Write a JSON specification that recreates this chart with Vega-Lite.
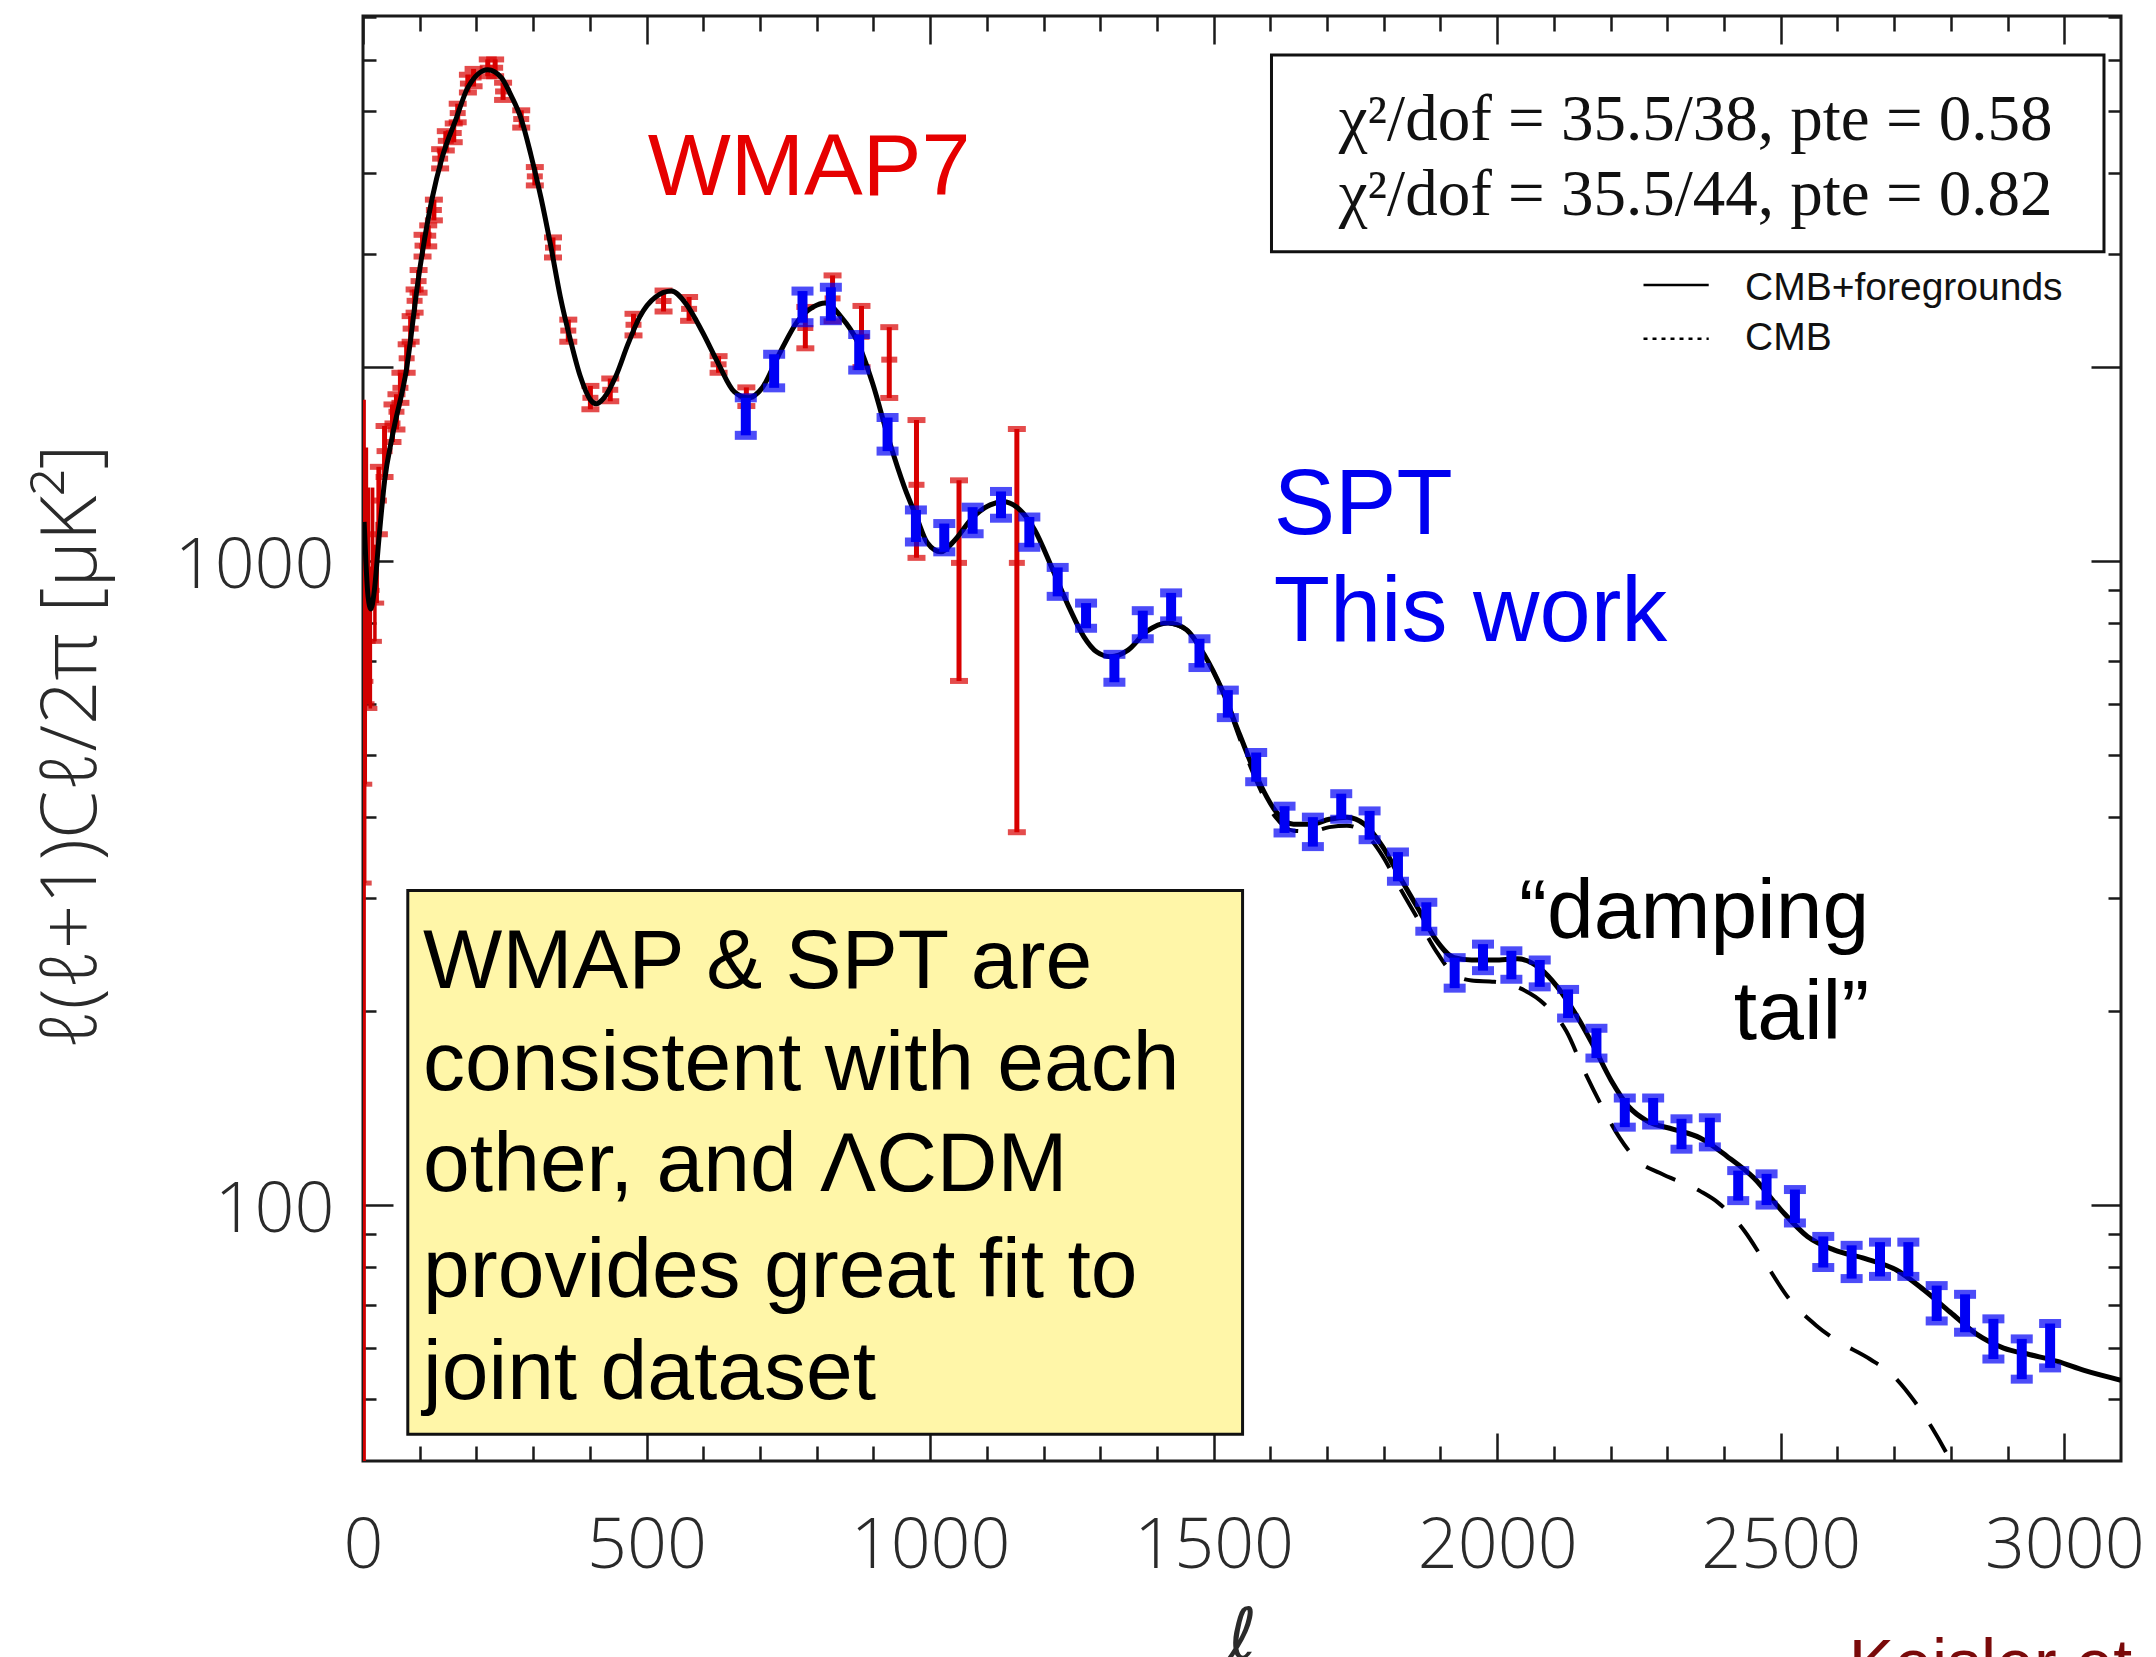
{
  "$schema": "https://vega.github.io/schema/vega-lite/v6.json",
  "width": 1758,
  "height": 1445,
  "autosize": {"type": "none"},
  "padding": {"left": 363, "top": 16, "right": 35, "bottom": 196},
  "background": "white",
  "config": {
    "view": {"stroke": "#1a1a1a", "strokeWidth": 3, "fill": "white"},
    "axis": {
      "domain": false, "grid": false, "tickColor": "#1a1a1a", "tickWidth": 2.5,
      "labelFont": "Open Sans", "labelFontWeight": 300, "labelFontSize": 70, "labelColor": "#2a2a2a",
      "titleFont": "Open Sans", "titleFontWeight": 300, "titleColor": "#2a2a2a",
      "labelFlush": false, "labelOverlap": false, "labelBound": false
    }
  },
  "resolve": {"axis": {"x": "independent", "y": "independent"}},
  "datasets": {
    "anchor": [{"l": 1000, "v": 1000}],
    "wmapLow": [
      {"l": 2, "v": 200, "lo": 22, "hi": 1780},
      {"l": 3, "v": 650, "lo": 316, "hi": 1244},
      {"l": 4, "v": 800, "lo": 450, "hi": 1350},
      {"l": 6, "v": 1050, "lo": 650, "hi": 1500},
      {"l": 8, "v": 850, "lo": 600, "hi": 1150},
      {"l": 10, "v": 1000, "lo": 750, "hi": 1300},
      {"l": 13, "v": 780, "lo": 590, "hi": 980},
      {"l": 17, "v": 1100, "lo": 900, "hi": 1300},
      {"l": 21, "v": 900, "lo": 750, "hi": 1060},
      {"l": 25, "v": 1000, "lo": 860, "hi": 1150}
    ],
    "wmap": [
      {"l": 28, "v": 1241, "lo": 1100, "hi": 1400},
      {"l": 38, "v": 1481, "lo": 1350, "hi": 1620},
      {"l": 52, "v": 1635, "lo": 1530, "hi": 1750},
      {"l": 59, "v": 1705, "lo": 1600, "hi": 1815},
      {"l": 66, "v": 1857, "lo": 1760, "hi": 1960},
      {"l": 77, "v": 2064, "lo": 1960, "hi": 2170},
      {"l": 84, "v": 2295, "lo": 2190, "hi": 2400},
      {"l": 91, "v": 2535, "lo": 2430, "hi": 2640},
      {"l": 98, "v": 2720, "lo": 2610, "hi": 2830},
      {"l": 105, "v": 3088, "lo": 2970, "hi": 3210},
      {"l": 115, "v": 3200, "lo": 3080, "hi": 3320},
      {"l": 125, "v": 3508, "lo": 3380, "hi": 3640},
      {"l": 136, "v": 4215, "lo": 4070, "hi": 4360},
      {"l": 146, "v": 4492, "lo": 4340, "hi": 4650},
      {"l": 160, "v": 4620, "lo": 4470, "hi": 4780},
      {"l": 167, "v": 4961, "lo": 4800, "hi": 5130},
      {"l": 185, "v": 5513, "lo": 5340, "hi": 5690},
      {"l": 195, "v": 5633, "lo": 5460, "hi": 5810},
      {"l": 220, "v": 5834, "lo": 5660, "hi": 6010},
      {"l": 233, "v": 5834, "lo": 5660, "hi": 6010},
      {"l": 247, "v": 5360, "lo": 5200, "hi": 5530},
      {"l": 279, "v": 4856, "lo": 4710, "hi": 5010},
      {"l": 303, "v": 3956, "lo": 3830, "hi": 4090},
      {"l": 335, "v": 3066, "lo": 2960, "hi": 3180},
      {"l": 362, "v": 2279, "lo": 2190, "hi": 2370},
      {"l": 401, "v": 1792, "lo": 1720, "hi": 1870},
      {"l": 436, "v": 1844, "lo": 1770, "hi": 1920},
      {"l": 477, "v": 2327, "lo": 2240, "hi": 2420},
      {"l": 530, "v": 2533, "lo": 2440, "hi": 2630},
      {"l": 575, "v": 2463, "lo": 2360, "hi": 2570},
      {"l": 627, "v": 2020, "lo": 1960, "hi": 2080},
      {"l": 676, "v": 1800, "lo": 1740, "hi": 1860},
      {"l": 780, "v": 2300, "lo": 2139, "hi": 2480},
      {"l": 828, "v": 2557, "lo": 2356, "hi": 2776},
      {"l": 879, "v": 2229, "lo": 2000, "hi": 2489},
      {"l": 928, "v": 2054, "lo": 1791, "hi": 2307},
      {"l": 976, "v": 1313, "lo": 1011, "hi": 1655},
      {"l": 1051, "v": 993, "lo": 651, "hi": 1334},
      {"l": 1153, "v": 993, "lo": 379, "hi": 1603}
    ],
    "spt": [
      {"l": 675, "v": 1682, "lo": 1567, "hi": 1792},
      {"l": 725, "v": 1971, "lo": 1857, "hi": 2094},
      {"l": 775, "v": 2481, "lo": 2344, "hi": 2625},
      {"l": 825, "v": 2516, "lo": 2361, "hi": 2661},
      {"l": 875, "v": 2108, "lo": 1979, "hi": 2247},
      {"l": 925, "v": 1567, "lo": 1481, "hi": 1670},
      {"l": 975, "v": 1137, "lo": 1070, "hi": 1200},
      {"l": 1025, "v": 1090, "lo": 1033, "hi": 1143},
      {"l": 1075, "v": 1156, "lo": 1102, "hi": 1212},
      {"l": 1125, "v": 1222, "lo": 1165, "hi": 1282},
      {"l": 1175, "v": 1119, "lo": 1050, "hi": 1170},
      {"l": 1225, "v": 932, "lo": 881, "hi": 977},
      {"l": 1275, "v": 820, "lo": 786, "hi": 860},
      {"l": 1325, "v": 683, "lo": 648, "hi": 716},
      {"l": 1375, "v": 795, "lo": 757, "hi": 837},
      {"l": 1425, "v": 846, "lo": 807, "hi": 892},
      {"l": 1475, "v": 716, "lo": 683, "hi": 757},
      {"l": 1525, "v": 601, "lo": 571, "hi": 630},
      {"l": 1575, "v": 481, "lo": 454, "hi": 504},
      {"l": 1625, "v": 397, "lo": 378, "hi": 416},
      {"l": 1675, "v": 381, "lo": 360, "hi": 400},
      {"l": 1725, "v": 416, "lo": 397, "hi": 435},
      {"l": 1775, "v": 390, "lo": 369, "hi": 409},
      {"l": 1825, "v": 335, "lo": 318, "hi": 353},
      {"l": 1875, "v": 279, "lo": 266, "hi": 295},
      {"l": 1925, "v": 229, "lo": 217, "hi": 242},
      {"l": 1975, "v": 242, "lo": 231, "hi": 254},
      {"l": 2025, "v": 236, "lo": 224, "hi": 248},
      {"l": 2075, "v": 229, "lo": 218, "hi": 240},
      {"l": 2125, "v": 206, "lo": 195, "hi": 216},
      {"l": 2175, "v": 179, "lo": 169, "hi": 188},
      {"l": 2225, "v": 140, "lo": 132, "hi": 146.5},
      {"l": 2275, "v": 140, "lo": 133, "hi": 146.5},
      {"l": 2325, "v": 129, "lo": 122, "hi": 136},
      {"l": 2375, "v": 130, "lo": 123, "hi": 136.5},
      {"l": 2425, "v": 107.3, "lo": 101.5, "hi": 113},
      {"l": 2475, "v": 105.6, "lo": 99.9, "hi": 111.7},
      {"l": 2525, "v": 99.9, "lo": 93.7, "hi": 105.6},
      {"l": 2575, "v": 84.5, "lo": 79.9, "hi": 89.3},
      {"l": 2625, "v": 81.8, "lo": 76.8, "hi": 86.5},
      {"l": 2675, "v": 82.5, "lo": 77.4, "hi": 87.5},
      {"l": 2725, "v": 82.5, "lo": 77.4, "hi": 87.5},
      {"l": 2775, "v": 70.3, "lo": 66, "hi": 74.9},
      {"l": 2825, "v": 68.1, "lo": 63.4, "hi": 72.6},
      {"l": 2875, "v": 61.9, "lo": 57.6, "hi": 66.5},
      {"l": 2925, "v": 57.6, "lo": 53.6, "hi": 61.9},
      {"l": 2975, "v": 60.9, "lo": 55.8, "hi": 65.4}
    ],
    "model": [
      {"l": 2, "v": 1150}, {"l": 5, "v": 1000}, {"l": 9, "v": 880}, {"l": 14, "v": 842}, {"l": 20, "v": 900},
      {"l": 28, "v": 1080}, {"l": 38, "v": 1330}, {"l": 52, "v": 1567}, {"l": 77, "v": 1993}, {"l": 98, "v": 2758},
      {"l": 122, "v": 3660}, {"l": 139, "v": 4215}, {"l": 164, "v": 4856}, {"l": 185, "v": 5438}, {"l": 220, "v": 5794},
      {"l": 244, "v": 5633}, {"l": 261, "v": 5284}, {"l": 279, "v": 4856}, {"l": 296, "v": 4274}, {"l": 314, "v": 3660},
      {"l": 331, "v": 3088}, {"l": 348, "v": 2570}, {"l": 366, "v": 2199}, {"l": 383, "v": 1937}, {"l": 401, "v": 1779},
      {"l": 411, "v": 1754}, {"l": 425, "v": 1792}, {"l": 446, "v": 1937}, {"l": 467, "v": 2169}, {"l": 488, "v": 2394},
      {"l": 516, "v": 2570}, {"l": 544, "v": 2625}, {"l": 571, "v": 2498}, {"l": 599, "v": 2263}, {"l": 627, "v": 2021},
      {"l": 655, "v": 1830}, {"l": 679, "v": 1792}, {"l": 704, "v": 1857}, {"l": 732, "v": 2079}, {"l": 767, "v": 2361},
      {"l": 794, "v": 2481}, {"l": 815, "v": 2516}, {"l": 843, "v": 2394}, {"l": 871, "v": 2199}, {"l": 899, "v": 1883},
      {"l": 927, "v": 1545}, {"l": 955, "v": 1300}, {"l": 976, "v": 1170}, {"l": 995, "v": 1067}, {"l": 1019, "v": 1033},
      {"l": 1043, "v": 1076}, {"l": 1074, "v": 1165}, {"l": 1106, "v": 1222}, {"l": 1129, "v": 1236}, {"l": 1153, "v": 1212},
      {"l": 1184, "v": 1119}, {"l": 1216, "v": 970}, {"l": 1247, "v": 840}, {"l": 1271, "v": 763}, {"l": 1294, "v": 722},
      {"l": 1318, "v": 710}, {"l": 1349, "v": 727}, {"l": 1381, "v": 776}, {"l": 1420, "v": 801}, {"l": 1452, "v": 782},
      {"l": 1483, "v": 716}, {"l": 1515, "v": 630}, {"l": 1546, "v": 537}, {"l": 1578, "v": 458}, {"l": 1609, "v": 409},
      {"l": 1641, "v": 390}, {"l": 1672, "v": 390}, {"l": 1704, "v": 397}, {"l": 1735, "v": 400}, {"l": 1766, "v": 390},
      {"l": 1798, "v": 360}, {"l": 1829, "v": 322}, {"l": 1861, "v": 288}, {"l": 1892, "v": 258}, {"l": 1924, "v": 242},
      {"l": 1955, "v": 240}, {"l": 1995, "v": 240}, {"l": 2036, "v": 241}, {"l": 2075, "v": 233}, {"l": 2106, "v": 218},
      {"l": 2138, "v": 198}, {"l": 2169, "v": 177}, {"l": 2201, "v": 156}, {"l": 2232, "v": 142}, {"l": 2264, "v": 135},
      {"l": 2311, "v": 131}, {"l": 2358, "v": 127}, {"l": 2405, "v": 119}, {"l": 2453, "v": 110}, {"l": 2500, "v": 98.3},
      {"l": 2547, "v": 89.3}, {"l": 2594, "v": 85.1}, {"l": 2649, "v": 82.5}, {"l": 2704, "v": 79.2}, {"l": 2752, "v": 73.8},
      {"l": 2799, "v": 68.1}, {"l": 2846, "v": 62.9}, {"l": 2893, "v": 59.9}, {"l": 2940, "v": 58.5}, {"l": 2988, "v": 57.1},
      {"l": 3035, "v": 55.3}, {"l": 3100, "v": 53.4}
    ],
    "cmb": [
      {"l": 1420, "v": 801}, {"l": 1452, "v": 782}, {"l": 1483, "v": 716}, {"l": 1515, "v": 630},
      {"l": 1546, "v": 530}, {"l": 1578, "v": 450}, {"l": 1609, "v": 400}, {"l": 1641, "v": 381}, {"l": 1672, "v": 380},
      {"l": 1704, "v": 386}, {"l": 1735, "v": 388}, {"l": 1766, "v": 378}, {"l": 1798, "v": 348}, {"l": 1829, "v": 310},
      {"l": 1861, "v": 277}, {"l": 1892, "v": 248}, {"l": 1924, "v": 228}, {"l": 1955, "v": 223}, {"l": 1995, "v": 222},
      {"l": 2034, "v": 218}, {"l": 2083, "v": 205}, {"l": 2122, "v": 186}, {"l": 2154, "v": 161}, {"l": 2185, "v": 142},
      {"l": 2216, "v": 127}, {"l": 2248, "v": 117}, {"l": 2287, "v": 112}, {"l": 2358, "v": 105}, {"l": 2390, "v": 100.7},
      {"l": 2437, "v": 90.8}, {"l": 2468, "v": 82.5}, {"l": 2515, "v": 71.4}, {"l": 2563, "v": 64.9}, {"l": 2594, "v": 61.9},
      {"l": 2657, "v": 57.6}, {"l": 2696, "v": 54.5}, {"l": 2736, "v": 49.5}, {"l": 2767, "v": 45}, {"l": 2800, "v": 40},
      {"l": 2820, "v": 37}
    ],
    "labels": [
      {"g": "wmap", "l": 502, "v": 3700, "t": "WMAP7"},
      {"g": "spt", "l": 1606, "v": 1101, "t": "SPT"},
      {"g": "spt", "l": 1606, "v": 751, "t": "This work"},
      {"g": "damp", "l": 2656, "v": 259.6, "t": "“damping"},
      {"g": "damp", "l": 2656, "v": 181, "t": "tail”"},
      {"g": "chi", "l": 2350, "v": 4507, "t": "χ²/dof = 35.5/38, pte = 0.58"},
      {"g": "chi", "l": 2350, "v": 3446, "t": "χ²/dof = 35.5/44, pte = 0.82"},
      {"g": "leg", "l": 2437, "v": 2544, "t": "CMB+foregrounds"},
      {"g": "leg", "l": 2437, "v": 2127, "t": "CMB"},
      {"g": "box", "l": 106, "v": 217.4, "t": "WMAP & SPT are"},
      {"g": "box", "l": 106, "v": 150.7, "t": "consistent with each"},
      {"g": "box", "l": 106, "v": 105.2, "t": "other, and ΛCDM"},
      {"g": "box", "l": 106, "v": 72.0, "t": "provides great fit to"},
      {"g": "box", "l": 106, "v": 50.0, "t": "joint dataset"},
      {"g": "cite", "l": 2620, "v": 17.85, "t": "Keisler et"}
    ],
    "legendLines": [
      {"k": "solid", "l": 2258, "l2": 2373, "v": 2683},
      {"k": "dot", "l": 2258, "l2": 2373, "v": 2214}
    ],
    "boxes": [
      {"k": "chi", "l": 1602, "l2": 3070, "v": 3020, "v2": 6105},
      {"k": "note", "l": 79, "l2": 1551, "v": 44.0, "v2": 307.6}
    ]
  },
  "layer": [
    {
      "data": {"name": "anchor"},
      "mark": {"type": "point", "opacity": 0},
      "encoding": {
        "x": {"field": "l", "type": "quantitative", "scale": {"domain": [0, 3100], "nice": false, "zero": false},
          "axis": {"orient": "bottom", "values": [0, 500, 1000, 1500, 2000, 2500, 3000], "tickSize": -28, "labelPadding": 79, "format": "d",
            "title": "ℓ", "titleFont": "DejaVu Sans", "titleFontStyle": "italic", "titleFontWeight": 300, "titleFontSize": 70,
            "titleX": 879, "titleY": 196, "titleBaseline": "alphabetic", "titleAlign": "center"}},
        "y": {"field": "v", "type": "quantitative", "scale": {"type": "log", "domain": [40, 7020], "nice": false},
          "axis": {"orient": "left", "values": [100, 1000, 2000], "tickSize": -30, "labelPadding": 59,
            "labelExpr": "datum.value == 2000 ? '' : format(datum.value, 'd')", "labelBaseline": "alphabetic", "labelOffset": 27,
            "title": "ℓ(ℓ+1)Cℓ/2π  [μK²]", "titleFontSize": 78, "titleX": -268, "titleY": 730, "titleAngle": -90,
            "titleBaseline": "alphabetic", "titleAlign": "center"}}
      }
    },
    {
      "data": {"name": "anchor"},
      "mark": {"type": "point", "opacity": 0},
      "encoding": {
        "x": {"field": "l", "type": "quantitative", "scale": {"domain": [0, 3100], "nice": false, "zero": false},
          "axis": {"orient": "bottom", "values": [100, 200, 300, 400, 600, 700, 800, 900, 1100, 1200, 1300, 1400, 1600, 1700, 1800, 1900, 2100, 2200, 2300, 2400, 2600, 2700, 2800, 2900], "tickSize": -15, "labels": false, "title": null}},
        "y": {"field": "v", "type": "quantitative", "scale": {"type": "log", "domain": [40, 7020], "nice": false},
          "axis": {"orient": "left", "values": [50, 60, 70, 80, 90, 200, 300, 400, 500, 600, 700, 800, 900, 3000, 4000, 5000, 6000, 7000], "tickSize": -13, "labels": false, "title": null}}
      }
    },
    {
      "data": {"name": "anchor"},
      "mark": {"type": "point", "opacity": 0},
      "encoding": {
        "x": {"field": "l", "type": "quantitative", "scale": {"domain": [0, 3100], "nice": false, "zero": false},
          "axis": {"orient": "top", "values": [0, 500, 1000, 1500, 2000, 2500, 3000], "tickSize": -28, "labels": false, "title": null}},
        "y": {"field": "v", "type": "quantitative", "scale": {"type": "log", "domain": [40, 7020], "nice": false},
          "axis": {"orient": "right", "values": [100, 1000, 2000], "tickSize": -30, "labels": false, "title": null}}
      }
    },
    {
      "data": {"name": "anchor"},
      "mark": {"type": "point", "opacity": 0},
      "encoding": {
        "x": {"field": "l", "type": "quantitative", "scale": {"domain": [0, 3100], "nice": false, "zero": false},
          "axis": {"orient": "top", "values": [100, 200, 300, 400, 600, 700, 800, 900, 1100, 1200, 1300, 1400, 1600, 1700, 1800, 1900, 2100, 2200, 2300, 2400, 2600, 2700, 2800, 2900], "tickSize": -15, "labels": false, "title": null}},
        "y": {"field": "v", "type": "quantitative", "scale": {"type": "log", "domain": [40, 7020], "nice": false},
          "axis": {"orient": "right", "values": [50, 60, 70, 80, 90, 200, 300, 400, 500, 600, 700, 800, 900, 3000, 4000, 5000, 6000, 7000], "tickSize": -13, "labels": false, "title": null}}
      }
    },
    {
      "data": {"name": "wmapLow"},
      "mark": {"type": "rule", "color": "#d00000", "strokeWidth": 3.5, "clip": true},
      "encoding": {
        "x": {"field": "l", "type": "quantitative", "scale": {"domain": [0, 3100], "nice": false, "zero": false}, "axis": null},
        "y": {"field": "lo", "type": "quantitative", "scale": {"type": "log", "domain": [40, 7020], "nice": false}, "axis": null},
        "y2": {"field": "hi"}
      }
    },
    {
      "data": {"name": "wmap"},
      "mark": {"type": "rule", "color": "#d80000", "strokeWidth": 5, "clip": true},
      "encoding": {
        "x": {"field": "l", "type": "quantitative", "scale": {"domain": [0, 3100], "nice": false, "zero": false}, "axis": null},
        "y": {"field": "lo", "type": "quantitative", "scale": {"type": "log", "domain": [40, 7020], "nice": false}, "axis": null},
        "y2": {"field": "hi"}
      }
    },
    {
      "data": {"name": "wmap"},
      "mark": {"type": "tick", "orient": "horizontal", "color": "#d80000", "size": 18, "thickness": 6, "clip": true},
      "encoding": {
        "x": {"field": "l", "type": "quantitative", "scale": {"domain": [0, 3100], "nice": false, "zero": false}, "axis": null},
        "y": {"field": "lo", "type": "quantitative", "scale": {"type": "log", "domain": [40, 7020], "nice": false}, "axis": null}
      }
    },
    {
      "data": {"name": "wmap"},
      "mark": {"type": "tick", "orient": "horizontal", "color": "#d80000", "size": 18, "thickness": 6, "clip": true},
      "encoding": {
        "x": {"field": "l", "type": "quantitative", "scale": {"domain": [0, 3100], "nice": false, "zero": false}, "axis": null},
        "y": {"field": "hi", "type": "quantitative", "scale": {"type": "log", "domain": [40, 7020], "nice": false}, "axis": null}
      }
    },
    {
      "data": {"name": "wmap"},
      "mark": {"type": "tick", "orient": "horizontal", "color": "#d80000", "size": 16, "thickness": 6, "clip": true},
      "encoding": {
        "x": {"field": "l", "type": "quantitative", "scale": {"domain": [0, 3100], "nice": false, "zero": false}, "axis": null},
        "y": {"field": "v", "type": "quantitative", "scale": {"type": "log", "domain": [40, 7020], "nice": false}, "axis": null}
      }
    },
    {
      "data": {"name": "wmapLow"},
      "mark": {"type": "tick", "orient": "horizontal", "color": "#d00000", "size": 14, "thickness": 5, "clip": true},
      "encoding": {
        "x": {"field": "l", "type": "quantitative", "scale": {"domain": [0, 3100], "nice": false, "zero": false}, "axis": null},
        "y": {"field": "lo", "type": "quantitative", "scale": {"type": "log", "domain": [40, 7020], "nice": false}, "axis": null}
      }
    },
    {
      "data": {"name": "cmb"},
      "mark": {"type": "line", "color": "black", "strokeWidth": 4, "strokeDash": [32, 24], "interpolate": "monotone", "clip": true},
      "encoding": {
        "x": {"field": "l", "type": "quantitative", "scale": {"domain": [0, 3100], "nice": false, "zero": false}, "axis": null},
        "y": {"field": "v", "type": "quantitative", "scale": {"type": "log", "domain": [40, 7020], "nice": false}, "axis": null}
      }
    },
    {
      "data": {"name": "model"},
      "mark": {"type": "line", "color": "black", "strokeWidth": 5, "interpolate": "monotone", "clip": true},
      "encoding": {
        "x": {"field": "l", "type": "quantitative", "scale": {"domain": [0, 3100], "nice": false, "zero": false}, "axis": null},
        "y": {"field": "v", "type": "quantitative", "scale": {"type": "log", "domain": [40, 7020], "nice": false}, "axis": null}
      }
    },
    {
      "data": {"name": "spt"},
      "mark": {"type": "rule", "color": "#0000f5", "strokeWidth": 10},
      "encoding": {
        "x": {"field": "l", "type": "quantitative", "scale": {"domain": [0, 3100], "nice": false, "zero": false}, "axis": null},
        "y": {"field": "lo", "type": "quantitative", "scale": {"type": "log", "domain": [40, 7020], "nice": false}, "axis": null},
        "y2": {"field": "hi"}
      }
    },
    {
      "data": {"name": "spt"},
      "mark": {"type": "tick", "orient": "horizontal", "color": "#0000f5", "size": 22, "thickness": 9},
      "encoding": {
        "x": {"field": "l", "type": "quantitative", "scale": {"domain": [0, 3100], "nice": false, "zero": false}, "axis": null},
        "y": {"field": "lo", "type": "quantitative", "scale": {"type": "log", "domain": [40, 7020], "nice": false}, "axis": null}
      }
    },
    {
      "data": {"name": "spt"},
      "mark": {"type": "tick", "orient": "horizontal", "color": "#0000f5", "size": 22, "thickness": 9},
      "encoding": {
        "x": {"field": "l", "type": "quantitative", "scale": {"domain": [0, 3100], "nice": false, "zero": false}, "axis": null},
        "y": {"field": "hi", "type": "quantitative", "scale": {"type": "log", "domain": [40, 7020], "nice": false}, "axis": null}
      }
    },
    {
      "data": {"name": "boxes"},
      "transform": [{"filter": "datum.k == 'chi'"}],
      "mark": {"type": "rect", "fill": "white", "stroke": "#111", "strokeWidth": 3},
      "encoding": {
        "x": {"field": "l", "type": "quantitative", "scale": {"domain": [0, 3100], "nice": false, "zero": false}, "axis": null},
        "x2": {"field": "l2"},
        "y": {"field": "v", "type": "quantitative", "scale": {"type": "log", "domain": [40, 7020], "nice": false}, "axis": null},
        "y2": {"field": "v2"}
      }
    },
    {
      "data": {"name": "boxes"},
      "transform": [{"filter": "datum.k == 'note'"}],
      "mark": {"type": "rect", "fill": "#fff6a8", "stroke": "#111", "strokeWidth": 3},
      "encoding": {
        "x": {"field": "l", "type": "quantitative", "scale": {"domain": [0, 3100], "nice": false, "zero": false}, "axis": null},
        "x2": {"field": "l2"},
        "y": {"field": "v", "type": "quantitative", "scale": {"type": "log", "domain": [40, 7020], "nice": false}, "axis": null},
        "y2": {"field": "v2"}
      }
    },
    {
      "data": {"name": "legendLines"},
      "transform": [{"filter": "datum.k == 'solid'"}],
      "mark": {"type": "rule", "color": "black", "strokeWidth": 2.5},
      "encoding": {
        "x": {"field": "l", "type": "quantitative", "scale": {"domain": [0, 3100], "nice": false, "zero": false}, "axis": null},
        "x2": {"field": "l2"},
        "y": {"field": "v", "type": "quantitative", "scale": {"type": "log", "domain": [40, 7020], "nice": false}, "axis": null}
      }
    },
    {
      "data": {"name": "legendLines"},
      "transform": [{"filter": "datum.k == 'dot'"}],
      "mark": {"type": "rule", "color": "black", "strokeWidth": 2.5, "strokeDash": [4, 5]},
      "encoding": {
        "x": {"field": "l", "type": "quantitative", "scale": {"domain": [0, 3100], "nice": false, "zero": false}, "axis": null},
        "x2": {"field": "l2"},
        "y": {"field": "v", "type": "quantitative", "scale": {"type": "log", "domain": [40, 7020], "nice": false}, "axis": null}
      }
    },
    {
      "data": {"name": "labels"},
      "transform": [{"filter": "datum.g == 'wmap'"}],
      "mark": {"type": "text", "align": "left", "baseline": "alphabetic", "font": "Liberation Sans", "fontSize": 88, "color": "#e60000"},
      "encoding": {
        "x": {"field": "l", "type": "quantitative", "scale": {"domain": [0, 3100], "nice": false, "zero": false}, "axis": null},
        "y": {"field": "v", "type": "quantitative", "scale": {"type": "log", "domain": [40, 7020], "nice": false}, "axis": null},
        "text": {"field": "t"}
      }
    },
    {
      "data": {"name": "labels"},
      "transform": [{"filter": "datum.g == 'spt'"}],
      "mark": {"type": "text", "align": "left", "baseline": "alphabetic", "font": "Liberation Sans", "fontSize": 92, "color": "#0000f0"},
      "encoding": {
        "x": {"field": "l", "type": "quantitative", "scale": {"domain": [0, 3100], "nice": false, "zero": false}, "axis": null},
        "y": {"field": "v", "type": "quantitative", "scale": {"type": "log", "domain": [40, 7020], "nice": false}, "axis": null},
        "text": {"field": "t"}
      }
    },
    {
      "data": {"name": "labels"},
      "transform": [{"filter": "datum.g == 'damp'"}],
      "mark": {"type": "text", "align": "right", "baseline": "alphabetic", "font": "Liberation Sans", "fontSize": 84, "color": "black"},
      "encoding": {
        "x": {"field": "l", "type": "quantitative", "scale": {"domain": [0, 3100], "nice": false, "zero": false}, "axis": null},
        "y": {"field": "v", "type": "quantitative", "scale": {"type": "log", "domain": [40, 7020], "nice": false}, "axis": null},
        "text": {"field": "t"}
      }
    },
    {
      "data": {"name": "labels"},
      "transform": [{"filter": "datum.g == 'chi'"}],
      "mark": {"type": "text", "align": "center", "baseline": "alphabetic", "font": "Liberation Serif", "fontSize": 65, "color": "#111"},
      "encoding": {
        "x": {"field": "l", "type": "quantitative", "scale": {"domain": [0, 3100], "nice": false, "zero": false}, "axis": null},
        "y": {"field": "v", "type": "quantitative", "scale": {"type": "log", "domain": [40, 7020], "nice": false}, "axis": null},
        "text": {"field": "t"}
      }
    },
    {
      "data": {"name": "labels"},
      "transform": [{"filter": "datum.g == 'leg'"}],
      "mark": {"type": "text", "align": "left", "baseline": "alphabetic", "font": "Liberation Sans", "fontSize": 39, "color": "#111"},
      "encoding": {
        "x": {"field": "l", "type": "quantitative", "scale": {"domain": [0, 3100], "nice": false, "zero": false}, "axis": null},
        "y": {"field": "v", "type": "quantitative", "scale": {"type": "log", "domain": [40, 7020], "nice": false}, "axis": null},
        "text": {"field": "t"}
      }
    },
    {
      "data": {"name": "labels"},
      "transform": [{"filter": "datum.g == 'box'"}],
      "mark": {"type": "text", "align": "left", "baseline": "alphabetic", "font": "Liberation Sans", "fontSize": 84, "color": "black"},
      "encoding": {
        "x": {"field": "l", "type": "quantitative", "scale": {"domain": [0, 3100], "nice": false, "zero": false}, "axis": null},
        "y": {"field": "v", "type": "quantitative", "scale": {"type": "log", "domain": [40, 7020], "nice": false}, "axis": null},
        "text": {"field": "t"}
      }
    },
    {
      "data": {"name": "labels"},
      "transform": [{"filter": "datum.g == 'cite'"}],
      "mark": {"type": "text", "align": "left", "baseline": "alphabetic", "font": "Liberation Sans", "fontSize": 68, "color": "#7a0a0a"},
      "encoding": {
        "x": {"field": "l", "type": "quantitative", "scale": {"domain": [0, 3100], "nice": false, "zero": false}, "axis": null},
        "y": {"field": "v", "type": "quantitative", "scale": {"type": "log", "domain": [40, 7020], "nice": false}, "axis": null},
        "text": {"field": "t"}
      }
    }
  ]
}
